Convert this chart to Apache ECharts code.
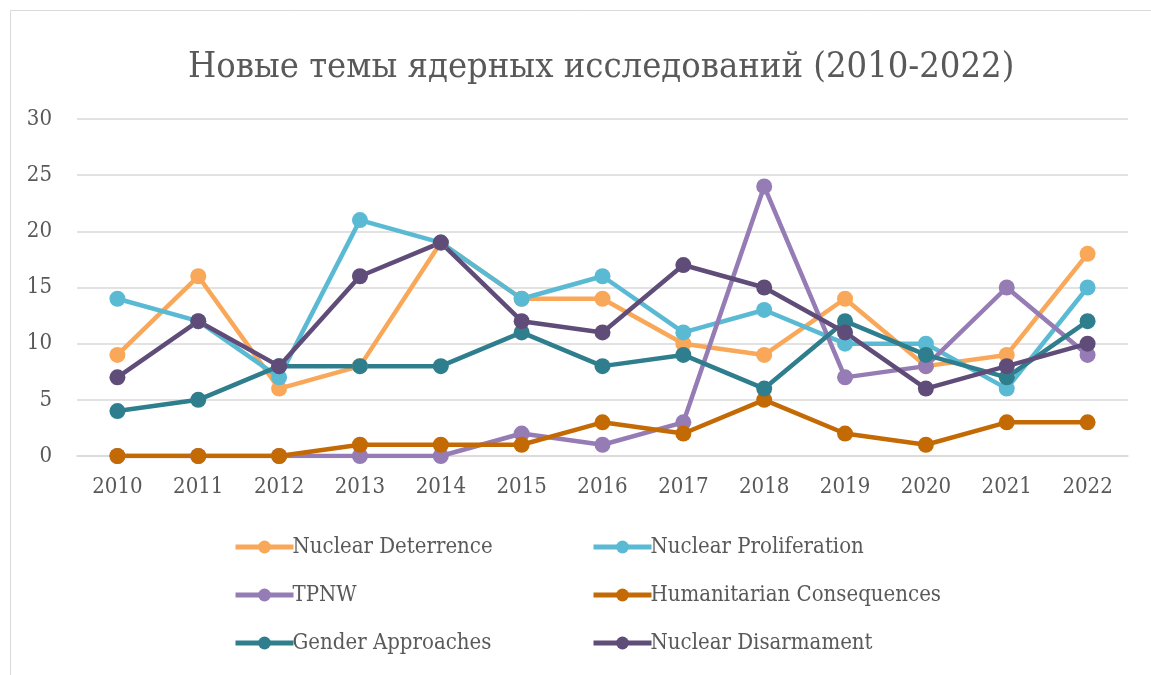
<!DOCTYPE html>
<html>
<head>
<meta charset="utf-8">
<script src="https://cdn.jsdelivr.net/npm/echarts@6/dist/echarts.min.js"></script>
<style>
  html, body { margin: 0; padding: 0; background: #fff; }
  #chart { width: 1151px; height: 675px; }
</style>
</head>
<body>
<div id="chart"></div>
<script>
const years = ['2010', '2011', '2012', '2013', '2014', '2015', '2016', '2017', '2018', '2019', '2020', '2021', '2022'];

const deterrence    = [9, 16, 6, 8, 19, 14, 14, 10, 9, 14, 8, 9, 18];
const proliferation = [14, 12, 7, 21, 19, 14, 16, 11, 13, 10, 10, 6, 15];
const tpnw          = [0, 0, 0, 0, 0, 2, 1, 3, 24, 7, 8, 15, 9];
const humanitarian  = [0, 0, 0, 1, 1, 1, 3, 2, 5, 2, 1, 3, 3];
const gender        = [4, 5, 8, 8, 8, 11, 8, 9, 6, 12, 9, 7, 12];
const disarmament   = [7, 12, 8, 16, 19, 12, 11, 17, 15, 11, 6, 8, 10];

const FONT = '"DejaVu Serif Condensed", "Liberation Serif", serif';
const TEXT = '#595959';

const seriesDefs = [
  { name: 'Nuclear Deterrence', data: deterrence, color: '#F9A85A' },
  { name: 'Nuclear Proliferation', data: proliferation, color: '#5BBAD3' },
  { name: 'TPNW', data: tpnw, color: '#967CB5' },
  { name: 'Humanitarian Consequences', data: humanitarian, color: '#C46A04' },
  { name: 'Gender Approaches', data: gender, color: '#2F7E8E' },
  { name: 'Nuclear Disarmament', data: disarmament, color: '#604C78' }
];

const chart = echarts.init(document.getElementById('chart'));

const legendBase = {
  orient: 'vertical', top: 531, itemWidth: 58, itemHeight: 16, itemGap: 26,
  lineStyle: { width: 5 },
  textStyle: { fontFamily: FONT, fontSize: 22, color: TEXT, padding: [0, 0, 0, -6] }
};

chart.setOption({
  animation: false,
  title: {
    text: 'Новые темы ядерных исследований (2010-2022)',
    left: 183, top: 45,
    textStyle: { fontFamily: FONT, fontSize: 36, fontWeight: 'normal', color: TEXT }
  },
  graphic: [{
    type: 'rect', shape: { x: 10.5, y: 10.5, width: 1150, height: 680 },
    style: { fill: 'none', stroke: '#d9d9d9', lineWidth: 1 }, silent: true
  }],
  grid: { left: 77, right: 23, top: 119, bottom: 219 },
  xAxis: {
    type: 'category', data: years, boundaryGap: true,
    axisLine: { lineStyle: { color: '#d9d9d9', width: 1.5 } },
    axisTick: { show: false },
    axisLabel: { fontFamily: FONT, fontSize: 22, color: TEXT, margin: 20 }
  },
  yAxis: {
    type: 'value', min: 0, max: 30, interval: 5,
    axisLine: { show: false }, axisTick: { show: false },
    splitLine: { lineStyle: { color: '#d9d9d9', width: 1.5 } },
    axisLabel: { fontFamily: FONT, fontSize: 22, color: TEXT, margin: 25 }
  },
  legend: [
    Object.assign({}, legendBase, { left: 228, data: ['Nuclear Deterrence', 'TPNW', 'Gender Approaches'] }),
    Object.assign({}, legendBase, { left: 586, data: ['Nuclear Proliferation', 'Humanitarian Consequences', 'Nuclear Disarmament'] })
  ],
  series: seriesDefs.map(s => ({
    name: s.name, type: 'line', data: s.data,
    symbol: 'circle', symbolSize: 16,
    lineStyle: { width: 4.5, color: s.color },
    itemStyle: { color: s.color },
    emphasis: { disabled: true }
  }))
});
</script>
</body>
</html>
